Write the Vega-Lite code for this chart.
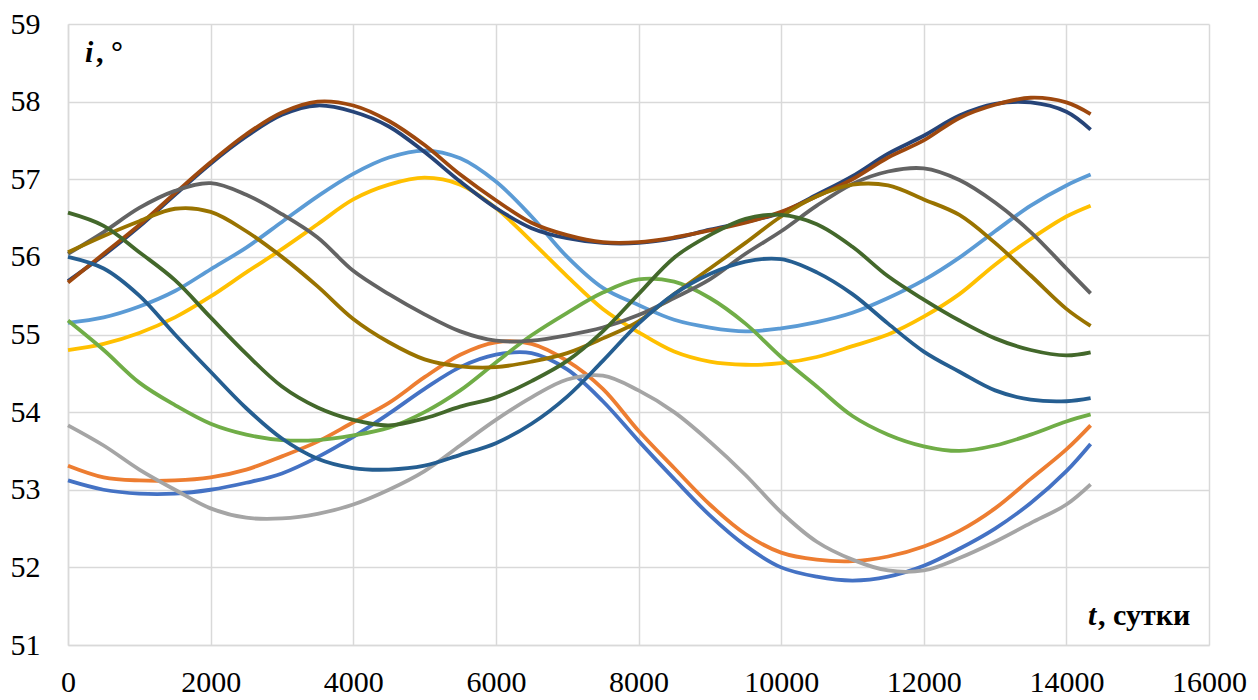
{
  "$schema": "https://vega.github.io/schema/vega-lite/v6.json",
  "width": 1141,
  "height": 621,
  "autosize": {"type": "none"},
  "padding": {"left": 68, "top": 24, "right": 49, "bottom": 55},
  "background": "white",
  "config": {"view": {"stroke": null}, "font": "Liberation Serif"},
  "datasets": {
    "curves": [
      {"t":0,"s01":53.12,"s02":53.31,"s03":53.83,"s04":54.8,"s05":55.15,"s06":55.18,"s07":55.69,"s08":55.67,"s09":56.04,"s10":56.06,"s11":56.0,"s12":56.57},
      {"t":500,"s01":53.0,"s02":53.16,"s03":53.57,"s04":54.88,"s05":55.22,"s06":54.8,"s07":56.02,"s08":56.04,"s09":56.32,"s10":56.27,"s11":55.85,"s12":56.4},
      {"t":1000,"s01":52.95,"s02":53.12,"s03":53.26,"s04":55.02,"s05":55.36,"s06":54.38,"s07":56.39,"s08":56.41,"s09":56.63,"s10":56.46,"s11":55.5,"s12":56.06},
      {"t":1500,"s01":52.95,"s02":53.12,"s03":53.0,"s04":55.22,"s05":55.56,"s06":54.09,"s07":56.8,"s08":56.82,"s09":56.85,"s10":56.62,"s11":55.0,"s12":55.7},
      {"t":2000,"s01":53.0,"s02":53.16,"s03":52.76,"s04":55.49,"s05":55.84,"s06":53.85,"s07":57.2,"s08":57.22,"s09":56.95,"s10":56.58,"s11":54.52,"s12":55.22},
      {"t":2500,"s01":53.09,"s02":53.26,"s03":52.64,"s04":55.8,"s05":56.12,"s06":53.71,"s07":57.55,"s08":57.58,"s09":56.8,"s10":56.33,"s11":54.05,"s12":54.75},
      {"t":3000,"s01":53.21,"s02":53.43,"s03":52.63,"s04":56.1,"s05":56.45,"s06":53.64,"s07":57.83,"s08":57.86,"s09":56.55,"s10":56.0,"s11":53.66,"s12":54.33},
      {"t":3500,"s01":53.42,"s02":53.62,"s03":52.69,"s04":56.42,"s05":56.78,"s06":53.64,"s07":57.95,"s08":58.0,"s09":56.25,"s10":55.62,"s11":53.4,"s12":54.06},
      {"t":4000,"s01":53.68,"s02":53.87,"s03":52.81,"s04":56.74,"s05":57.07,"s06":53.7,"s07":57.87,"s08":57.95,"s09":55.82,"s10":55.2,"s11":53.28,"s12":53.9},
      {"t":4500,"s01":53.98,"s02":54.12,"s03":53.0,"s04":56.93,"s05":57.28,"s06":53.8,"s07":57.68,"s08":57.75,"s09":55.52,"s10":54.9,"s11":53.26,"s12":53.83},
      {"t":5000,"s01":54.3,"s02":54.45,"s03":53.24,"s04":57.02,"s05":57.37,"s06":54.0,"s07":57.35,"s08":57.44,"s09":55.26,"s10":54.68,"s11":53.31,"s12":53.92},
      {"t":5500,"s01":54.58,"s02":54.74,"s03":53.57,"s04":56.93,"s05":57.27,"s06":54.28,"s07":56.97,"s08":57.06,"s09":55.04,"s10":54.59,"s11":53.45,"s12":54.07},
      {"t":6000,"s01":54.74,"s02":54.9,"s03":53.9,"s04":56.63,"s05":56.97,"s06":54.64,"s07":56.63,"s08":56.73,"s09":54.92,"s10":54.58,"s11":53.6,"s12":54.19},
      {"t":6500,"s01":54.76,"s02":54.88,"s03":54.19,"s04":56.2,"s05":56.52,"s06":54.99,"s07":56.37,"s08":56.44,"s09":54.92,"s10":54.65,"s11":53.85,"s12":54.4},
      {"t":7000,"s01":54.55,"s02":54.66,"s03":54.42,"s04":55.75,"s05":56.0,"s06":55.28,"s07":56.24,"s08":56.28,"s09":54.99,"s10":54.76,"s11":54.2,"s12":54.66},
      {"t":7500,"s01":54.14,"s02":54.3,"s03":54.47,"s04":55.33,"s05":55.6,"s06":55.54,"s07":56.18,"s08":56.19,"s09":55.09,"s10":54.95,"s11":54.66,"s12":55.04},
      {"t":8000,"s01":53.63,"s02":53.76,"s03":54.28,"s04":55.03,"s05":55.38,"s06":55.71,"s07":56.18,"s08":56.19,"s09":55.25,"s10":55.17,"s11":55.14,"s12":55.52},
      {"t":8500,"s01":53.14,"s02":53.28,"s03":54.0,"s04":54.78,"s05":55.19,"s06":55.68,"s07":56.24,"s08":56.25,"s09":55.47,"s10":55.52,"s11":55.52,"s12":55.99},
      {"t":9000,"s01":52.67,"s02":52.81,"s03":53.62,"s04":54.65,"s05":55.09,"s06":55.47,"s07":56.35,"s08":56.34,"s09":55.71,"s10":55.85,"s11":55.78,"s12":56.28},
      {"t":9500,"s01":52.28,"s02":52.43,"s03":53.19,"s04":54.61,"s05":55.04,"s06":55.14,"s07":56.45,"s08":56.44,"s09":56.04,"s10":56.18,"s11":55.94,"s12":56.49},
      {"t":10000,"s01":52.0,"s02":52.19,"s03":52.71,"s04":54.63,"s05":55.08,"s06":54.71,"s07":56.57,"s08":56.58,"s09":56.33,"s10":56.52,"s11":55.97,"s12":56.54},
      {"t":10500,"s01":51.88,"s02":52.1,"s03":52.33,"s04":54.71,"s05":55.16,"s06":54.33,"s07":56.8,"s08":56.78,"s09":56.66,"s10":56.78,"s11":55.8,"s12":56.42},
      {"t":11000,"s01":51.83,"s02":52.08,"s03":52.1,"s04":54.85,"s05":55.28,"s06":53.95,"s07":57.04,"s08":57.0,"s09":56.94,"s10":56.93,"s11":55.52,"s12":56.13},
      {"t":11500,"s01":51.88,"s02":52.14,"s03":51.96,"s04":55.0,"s05":55.47,"s06":53.71,"s07":57.33,"s08":57.28,"s09":57.1,"s10":56.92,"s11":55.14,"s12":55.75},
      {"t":12000,"s01":52.02,"s02":52.27,"s03":51.96,"s04":55.23,"s05":55.7,"s06":53.56,"s07":57.56,"s08":57.5,"s09":57.14,"s10":56.74,"s11":54.78,"s12":55.45},
      {"t":12500,"s01":52.24,"s02":52.47,"s03":52.12,"s04":55.52,"s05":55.99,"s06":53.5,"s07":57.82,"s08":57.79,"s09":56.99,"s10":56.54,"s11":54.52,"s12":55.18},
      {"t":13000,"s01":52.5,"s02":52.76,"s03":52.33,"s04":55.9,"s05":56.33,"s06":53.57,"s07":57.97,"s08":57.96,"s09":56.7,"s10":56.18,"s11":54.28,"s12":54.95},
      {"t":13500,"s01":52.83,"s02":53.14,"s03":52.57,"s04":56.23,"s05":56.66,"s06":53.71,"s07":57.99,"s08":58.05,"s09":56.32,"s10":55.76,"s11":54.16,"s12":54.8},
      {"t":14000,"s01":53.24,"s02":53.52,"s03":52.81,"s04":56.52,"s05":56.92,"s06":53.88,"s07":57.87,"s08":57.99,"s09":55.85,"s10":55.33,"s11":54.14,"s12":54.73},
      {"t":14340,"s01":53.59,"s02":53.83,"s03":53.07,"s04":56.66,"s05":57.06,"s06":53.97,"s07":57.64,"s08":57.84,"s09":55.53,"s10":55.11,"s11":54.18,"s12":54.77}
    ]
  },
  "layer": [
    {
      "data": {"name": "curves"},
      "transform": [{"fold": ["s01","s02","s03","s04","s05","s06","s07","s08","s09","s10","s11","s12"], "as": ["s", "i"]}],
      "mark": {"type": "line", "strokeWidth": 3.8, "interpolate": "catmull-rom"},
      "encoding": {
        "x": {"field": "t", "type": "quantitative",
          "scale": {"domain": [0, 16000], "nice": false, "zero": false},
          "axis": {"values": [0,2000,4000,6000,8000,10000,12000,14000,16000], "title": null, "grid": true, "gridColor": "#d9d9d9", "gridWidth": 1.5, "domainColor": "#d9d9d9", "domainWidth": 1.5, "ticks": false, "labelFont": "Liberation Serif", "labelFontSize": 30, "labelColor": "#000000", "labelPadding": 22, "labelFlush": false, "labelOverlap": false, "format": "d"}},
        "y": {"field": "i", "type": "quantitative",
          "scale": {"domain": [51, 59], "nice": false, "zero": false},
          "axis": {"values": [51,52,53,54,55,56,57,58,59], "title": null, "grid": true, "gridColor": "#d9d9d9", "gridWidth": 1.5, "domainColor": "#d9d9d9", "domainWidth": 1.5, "ticks": false, "labelFont": "Liberation Serif", "labelFontSize": 30, "labelColor": "#000000", "labelPadding": 28, "labelOverlap": false, "format": "d"}},
        "color": {"field": "s", "type": "nominal", "legend": null,
          "scale": {"domain": ["s01","s02","s03","s04","s05","s06","s07","s08","s09","s10","s11","s12"],
            "range": ["#4472C4","#ED7D31","#A5A5A5","#FFC000","#5B9BD5","#70AD47","#264478","#9E480E","#636363","#997300","#255E91","#43682B"]}}
      }
    },
    {
      "data": {"values": [{"t": 238, "i": 58.51, "label": "i"}, {"t": 14303, "i": 51.255, "label": "t"}]},
      "mark": {"type": "text", "font": "Liberation Serif", "fontSize": 30, "fontStyle": "italic", "fontWeight": "bold", "align": "left", "baseline": "alphabetic", "color": "#000000"},
      "encoding": {
        "x": {"field": "t", "type": "quantitative"},
        "y": {"field": "i", "type": "quantitative"},
        "text": {"field": "label"}
      }
    },
    {
      "data": {"values": [{"t": 238, "i": 58.51, "label": ", °"}]},
      "mark": {"type": "text", "font": "Liberation Serif", "fontSize": 30, "fontWeight": "bold", "align": "left", "baseline": "alphabetic", "dx": 11, "color": "#000000"},
      "encoding": {
        "x": {"field": "t", "type": "quantitative"},
        "y": {"field": "i", "type": "quantitative"},
        "text": {"field": "label"}
      }
    },
    {
      "data": {"values": [{"t": 14303, "i": 51.255, "label": ", сутки"}]},
      "mark": {"type": "text", "font": "Liberation Serif", "fontSize": 30, "fontWeight": "bold", "align": "left", "baseline": "alphabetic", "dx": 10, "color": "#000000"},
      "encoding": {
        "x": {"field": "t", "type": "quantitative"},
        "y": {"field": "i", "type": "quantitative"},
        "text": {"field": "label"}
      }
    }
  ]
}
